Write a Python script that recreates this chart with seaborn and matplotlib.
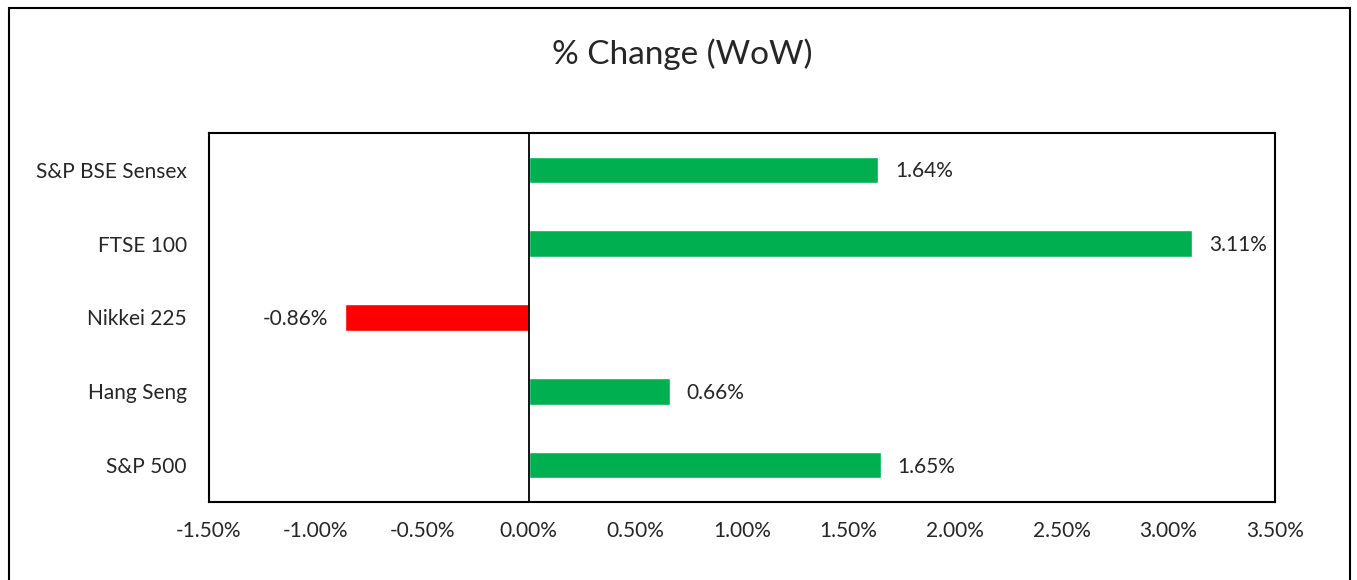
import matplotlib
matplotlib.use("Agg")
import matplotlib.pyplot as plt
import matplotlib.ticker as mticker
from matplotlib.patches import Rectangle
import pandas as pd
import seaborn as sns

# Data (weekly % change)
INDICES = ["S&P BSE Sensex", "FTSE 100", "Nikkei 225", "Hang Seng", "S&P 500"]
CHANGES = [1.64, 3.11, -0.86, 0.66, 1.65]
X_TICKS = [-1.5, -1.0, -0.5, 0.0, 0.5, 1.0, 1.5, 2.0, 2.5, 3.0, 3.5]

GREEN = "#00B050"
RED = "#FF0000"

sns.set_style("white")
plt.rcParams["font.family"] = ["Lato", "DejaVu Sans"]

df = pd.DataFrame({"index": INDICES, "change": CHANGES})
df["sign"] = ["pos" if v >= 0 else "neg" for v in df["change"]]

fig = plt.figure(figsize=(13.57, 5.8), dpi=100)
ax = fig.add_axes([0.154, 0.1345, 0.7856, 0.6362])

sns.barplot(
    data=df, x="change", y="index", hue="sign", orient="h",
    palette={"pos": GREEN, "neg": RED}, width=0.36, legend=False,
    saturation=1, ax=ax,
)

ax.set_xlim(X_TICKS[0], X_TICKS[-1])
ax.set_xticks(X_TICKS)
ax.xaxis.set_major_formatter(mticker.FuncFormatter(lambda v, _: f"{v:.2f}%"))
ax.set_xlabel("")
ax.set_ylabel("")
ax.tick_params(axis="both", length=0, labelsize=15)
ax.tick_params(axis="x", pad=14)
ax.tick_params(axis="y", pad=16)
for s in ax.spines.values():
    s.set_visible(True)
    s.set_color("black")
    s.set_linewidth(1.5)
ax.axvline(0, color="black", lw=1.3, zorder=3)

# data labels
for i, v in enumerate(CHANGES):
    off = 0.08
    if v >= 0:
        ax.text(v + off, i + 0.02, f"{v:.2f}%", va="center", ha="left", fontsize=15)
    else:
        ax.text(v - off, i + 0.02, f"{v:.2f}%", va="center", ha="right", fontsize=15)

fig.text(0.503, 0.906, "% Change (WoW)", ha="center", va="center", fontsize=24)

# outer chart border
fig.patches.append(Rectangle((9 / 1357, -0.01), 1341 / 1357, 1 - 8 / 580 + 0.01,
                             transform=fig.transFigure, fill=False,
                             edgecolor="black", lw=1.5))

fig.savefig("out.png", dpi=100)
